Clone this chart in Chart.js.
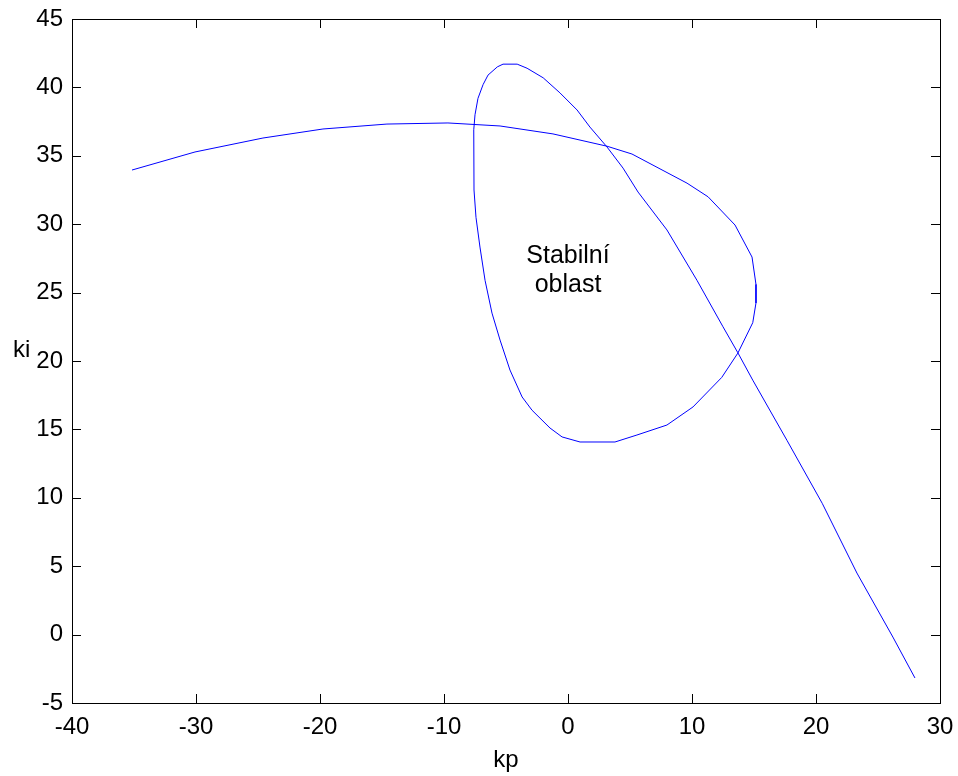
<!DOCTYPE html>
<html>
<head>
<meta charset="utf-8">
<title>Stabilní oblast</title>
<script src="https://cdn.jsdelivr.net/npm/chart.js@4.4.1/dist/chart.umd.min.js"></script>
<style>
    html, body { margin: 0; padding: 0; background: #fff; }
    #plot { display: block; }
</style>
</head>
<body>
<canvas id="plot" width="958" height="776"></canvas>
<script>
// hranice stability v rovině kp-ki
const kpValues = [
    -35.16, -30.08, -24.6, -19.76, -14.6, -9.68, -5.48, -1.21, 3.15, 5.16,
    9.6, 11.3, 13.47, 14.84, 15.16, 15.16, 14.9, 13.7, 12.4, 10.08,
    7.98, 5.56, 3.79, 0.97, -0.48, -1.45, -2.9, -3.7, -4.68, -5.48,
    -6.13, -6.69, -7.1, -7.42, -7.58, -7.6, -7.5, -7.26, -6.85, -6.45,
    -5.7, -5.24, -4.1, -3.3, -2.0, -0.65, 0.73, 1.77, 3.15, 4.44,
    5.65, 7.98, 10.4, 12.5, 13.7, 14.9, 17.66, 20.5, 23.3, 26.2, 27.98
];
const kiValues = [
    33.96, 35.28, 36.3, 36.96, 37.32, 37.4, 37.18, 36.6, 35.7, 35.13,
    33.0, 32.0, 29.94, 27.6, 25.6, 24.24, 22.8, 20.58, 18.8, 16.64,
    15.32, 14.59, 14.08, 14.08, 14.45, 15.1, 16.4, 17.37, 19.34, 21.53,
    23.5, 25.9, 28.33, 30.5, 32.5, 36.9, 38.0, 39.2, 40.2, 40.9,
    41.5, 41.7, 41.7, 41.4, 40.7, 39.6, 38.35, 37.1, 35.64, 34.1,
    32.35, 29.58, 25.9, 22.5, 20.6, 18.6, 14.2, 9.6, 4.5, -0.18, -3.17
];
const xTicks = [-40, -30, -20, -10, 0, 10, 20, 30];
const yTicks = [-5, 0, 5, 10, 15, 20, 25, 30, 35, 40, 45];

const regionText = ["Stabilní", "oblast"];
const regionKp = 0;
const regionKi = [27.16, 25.04];

const fontFamily = "'Liberation Sans', Arial, Helvetica, sans-serif";

// rámeček a krátké značky dovnitř na všech čtyřech stranách (jako v MATLABu)
const boxPlugin = {
    id: "boxTicks",
    afterDraw(chart) {
        const { ctx, chartArea: a, scales } = chart;
        const len = 9;
        ctx.save();
        ctx.strokeStyle = "#000";
        ctx.lineWidth = 1;
        ctx.beginPath();
        xTicks.forEach(v => {
            const px = Math.round(scales.x.getPixelForValue(v)) + 0.5;
            ctx.moveTo(px, a.bottom);
            ctx.lineTo(px, a.bottom - len);
            ctx.moveTo(px, a.top);
            ctx.lineTo(px, a.top + len);
        });
        yTicks.forEach(v => {
            const py = Math.round(scales.y.getPixelForValue(v)) + 0.5;
            ctx.moveTo(a.left, py);
            ctx.lineTo(a.left + len, py);
            ctx.moveTo(a.right, py);
            ctx.lineTo(a.right - len, py);
        });
        ctx.stroke();
        ctx.strokeRect(a.left + 0.5, a.top + 0.5, a.right - a.left, a.bottom - a.top);

        // popisek osy y (nepootočený)
        ctx.fillStyle = "#000";
        ctx.font = "24px " + fontFamily;
        ctx.textAlign = "left";
        ctx.textBaseline = "middle";
        ctx.fillText("ki", 13, (a.top + a.bottom) / 2 - 11);

        // text uvnitř oblasti
        ctx.font = "25px " + fontFamily;
        ctx.textAlign = "center";
        ctx.textBaseline = "alphabetic";
        const cx = scales.x.getPixelForValue(regionKp);
        regionText.forEach((t, i) => {
            ctx.fillText(t, cx, scales.y.getPixelForValue(regionKi[i]));
        });
        ctx.restore();
    }
};

const points = kpValues.map((kp, i) => ({ x: kp, y: kiValues[i] }));

new Chart(document.getElementById("plot").getContext("2d"), {
    type: "scatter",
    data: {
        datasets: [{
            data: points,
            showLine: true,
            borderColor: "#0000ff",
            backgroundColor: "#0000ff",
            borderWidth: 1,
            pointRadius: 0,
            pointHoverRadius: 0,
            tension: 0,
            fill: false
        }]
    },
    options: {
        responsive: false,
        animation: false,
        devicePixelRatio: 1,
        layout: {
            autoPadding: false,
            padding: { top: 19, right: 18, left: 0, bottom: 0 }
        },
        plugins: {
            legend: { display: false },
            tooltip: { enabled: false }
        },
        scales: {
            x: {
                type: "linear",
                min: -40,
                max: 30,
                grid: { display: false, drawTicks: false },
                border: { display: false },
                afterBuildTicks: s => { s.ticks = xTicks.map(v => ({ value: v })); },
                afterFit: s => {
                    s.height = 73;
                    s.paddingLeft = 0;
                    s.paddingRight = 0;
                },
                ticks: {
                    color: "#000",
                    padding: 10,
                    maxRotation: 0,
                    autoSkip: false,
                    font: { family: fontFamily, size: 24 }
                },
                title: {
                    display: true,
                    text: "kp",
                    color: "#000",
                    padding: { top: 0, bottom: 1 },
                    font: { family: fontFamily, size: 24 }
                }
            },
            y: {
                type: "linear",
                min: -5,
                max: 45,
                grid: { display: false, drawTicks: false },
                border: { display: false },
                afterBuildTicks: s => { s.ticks = yTicks.map(v => ({ value: v })); },
                afterFit: s => {
                    s.width = 72;
                    s.paddingTop = 0;
                    s.paddingBottom = 0;
                },
                ticks: {
                    color: "#000",
                    padding: 9,
                    autoSkip: false,
                    font: { family: fontFamily, size: 24 }
                }
            }
        }
    },
    plugins: [boxPlugin]
});
</script>
</body>
</html>
